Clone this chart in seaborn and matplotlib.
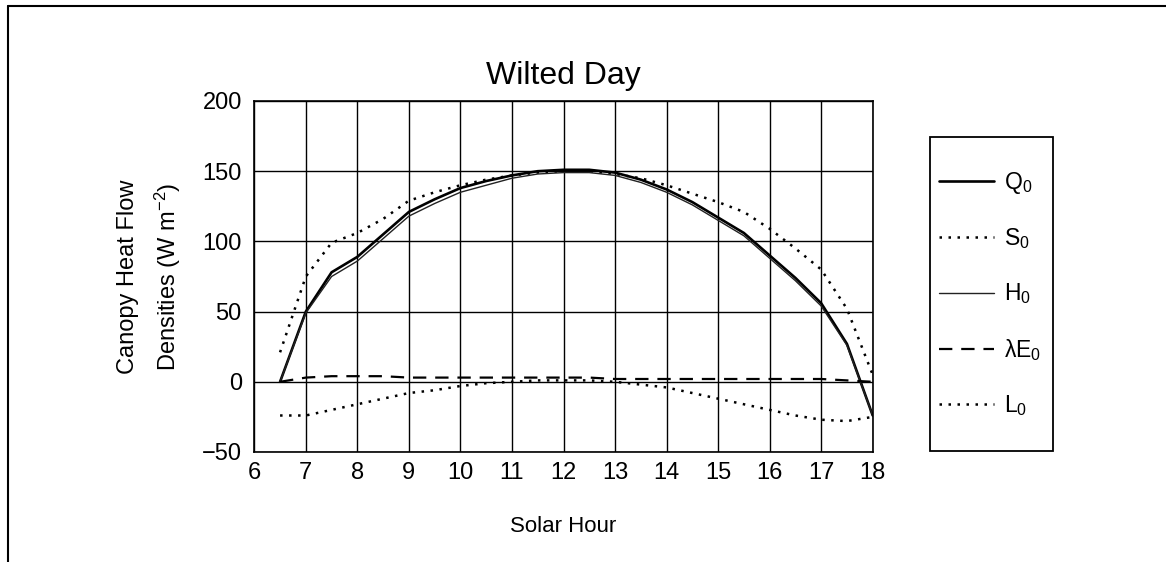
import numpy as np
import pandas as pd
import matplotlib
matplotlib.use("Agg")
import matplotlib.pyplot as plt
import seaborn as sns
from matplotlib.lines import Line2D
from matplotlib.patches import Rectangle

# ---- data ----
hours = [6.5, 7, 7.5, 8, 8.5, 9, 9.5, 10, 10.5, 11, 11.5, 12,
         12.5, 13, 13.5, 14, 14.5, 15, 15.5, 16, 16.5, 17, 17.5, 18]
Q0 = [0, 50, 78, 89, 105, 121, 130, 138, 143, 147, 150, 151,
      151, 149, 144, 137, 128, 117, 106, 90, 74, 56, 27, -24]
S0 = [21, 75, 99, 106, 116, 129, 135, 140, 144, 147, 149, 150,
      150, 148, 145, 140, 134, 128, 121, 109, 95, 80, 52, 5]
H0 = [0, 49, 75, 86, 102, 118, 127, 135, 140, 145, 148, 149,
      149, 147, 142, 135, 126, 115, 104, 88, 72, 54, 26, -24]
LE0 = [0, 3, 4, 4, 4, 3, 3, 3, 3, 3, 3, 3,
       3, 2, 2, 2, 2, 2, 2, 2, 2, 2, 1, 0]
L0 = [-24, -24, -20, -16, -12, -8, -6, -3, -1, 0, 1, 1,
      1, 0, -2, -4, -8, -12, -16, -20, -24, -27, -28, -25]

series_names = ["Q$_0$", "S$_0$", "H$_0$", "λE$_0$", "L$_0$"]
x_ticks = list(range(6, 19))
y_ticks = list(range(-50, 201, 50))

# ---- style ----
sns.set_theme(style="white")
plt.rcParams["font.family"] = ["Liberation Sans", "DejaVu Sans"]
plt.rcParams["mathtext.fontset"] = "custom"
plt.rcParams["mathtext.rm"] = "Liberation Sans"
plt.rcParams["mathtext.it"] = "Liberation Sans:italic"
plt.rcParams["mathtext.default"] = "regular"

fig = plt.figure(figsize=(11.66, 5.62), dpi=100)
fig.patch.set_facecolor("white")
ax = fig.add_axes([254.3 / 1166, 1 - 452 / 562, 618.4 / 1166, 351 / 562])

df = pd.DataFrame({"hour": hours, "Q": Q0, "S": S0, "H": H0, "LE": LE0, "L": L0})

styles = {
    "Q": dict(color="black", lw=1.9, ls="-"),
    "S": dict(color="black", lw=1.8, ls=(0, (1, 2.6))),
    "H": dict(color="#222222", lw=1.0, ls="-"),
    "LE": dict(color="black", lw=1.6, ls=(0, (6, 4))),
    "L": dict(color="black", lw=1.8, ls=(0, (1, 2.6))),
}
order = ["Q", "S", "H", "LE", "L"]
for key, name in zip(order, series_names):
    st = styles[key]
    sns.lineplot(data=df, x="hour", y=key, ax=ax, color=st["color"],
                 linewidth=st["lw"], linestyle=st["ls"], label=name, legend=False)

ax.set_xlim(6, 18)
ax.set_ylim(-50, 200)
ax.set_xticks(x_ticks)
ax.set_yticks(y_ticks)
ax.grid(True, color="black", linewidth=1.0)
for sp in ax.spines.values():
    sp.set_visible(True)
    sp.set_color("black")
    sp.set_linewidth(1.2)
ax.tick_params(axis="both", length=0, labelsize=17, colors="black")
ax.tick_params(axis="x", pad=7)
ax.tick_params(axis="y", pad=9)

ax.set_title("Wilted Day", fontsize=23, pad=12, color="black")
ax.set_xlabel("Solar Hour", fontsize=16, labelpad=23, color="black")
ax.set_ylabel("Canopy Heat Flow\nDensities (W m$^{-2}$)", fontsize=17,
              linespacing=1.6, va="center", color="black")
ax.yaxis.set_label_coords((150 - 254.3) / 618.4, 0.5)

# legend
handles, labels = ax.get_legend_handles_labels()
leg = ax.legend(handles, labels, loc="center left",
                bbox_to_anchor=((932 - 254.3) / 618.4, (452 - 294) / 351),
                frameon=False, fontsize=16.5, labelspacing=1.33,
                handlelength=2.4, handletextpad=0.45, borderpad=0.3,
                borderaxespad=0)
for t in leg.get_texts():
    t.set_color("black")

fig.add_artist(Rectangle((930 / 1166, 1 - 451 / 562), 123 / 1166, 314 / 562,
                         transform=fig.transFigure, fill=False,
                         edgecolor="black", linewidth=1.3))

# outer frame (top and left edges)
fig.add_artist(Line2D([8 / 1166, 1.0], [1 - 6 / 562, 1 - 6 / 562],
                      transform=fig.transFigure, color="black", linewidth=1.5))
fig.add_artist(Line2D([8 / 1166, 8 / 1166], [1 - 6 / 562, 0.0],
                      transform=fig.transFigure, color="black", linewidth=1.5))

fig.savefig("out.png", dpi=100, facecolor="white")
